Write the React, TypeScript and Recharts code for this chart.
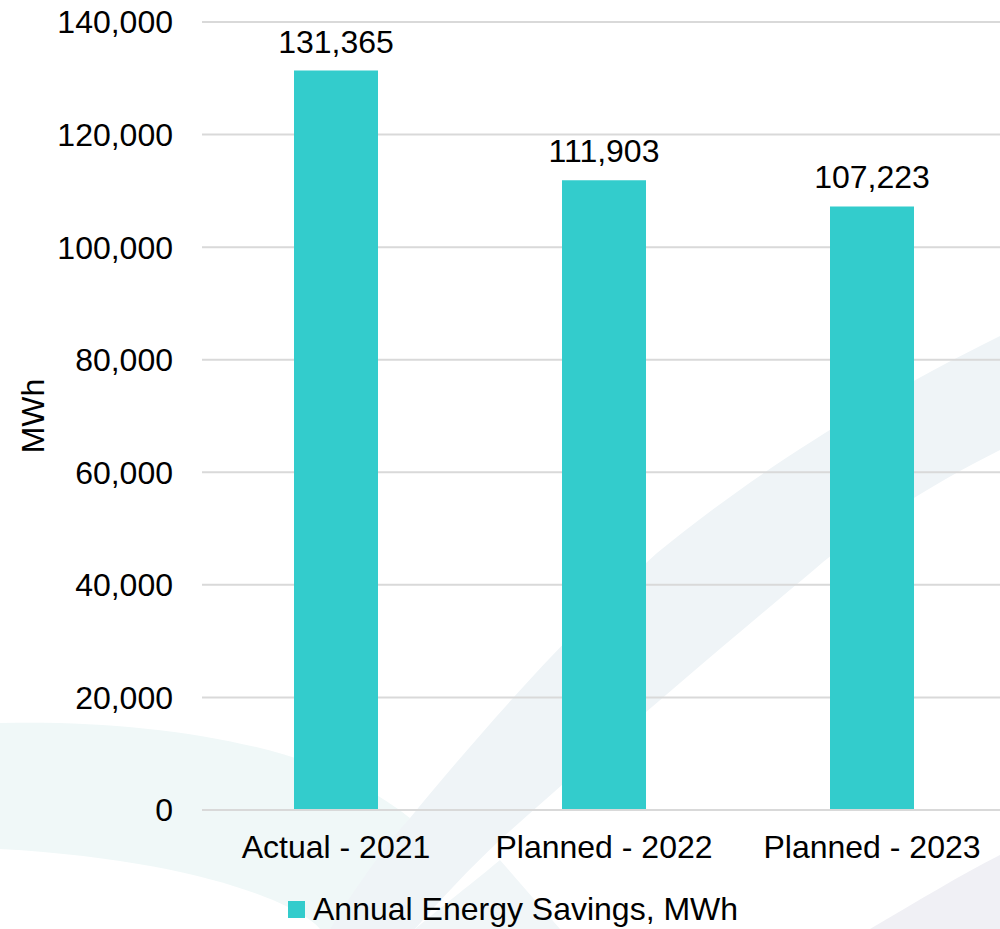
import React from "react";
import { BarChart, Bar, XAxis, YAxis, CartesianGrid, Legend, LabelList } from "recharts";

const categories = ["Actual - 2021", "Planned - 2022", "Planned - 2023"];
const savings = [131365, 111903, 107223];
const yTicks = [0, 20000, 40000, 60000, 80000, 100000, 120000, 140000];
const seriesName = "Annual Energy Savings, MWh";

const data = categories.map((name, i) => ({ name, savings: savings[i] }));

const FONT = "'Liberation Sans', Arial, sans-serif";
const FS = 32;
const BAR = "#33cccc";
const fmt = (v: number) => v.toLocaleString("en-US");

// soft decorative swooshes behind the plot
function Backdrop() {
  return (
    <svg width={1000} height={929} style={{ position: "absolute", left: 0, top: 0 }}>
      <path
        d="M0,723 C120,720 250,735 340,775 C380,795 400,810 410,818 L330,929 L320,929 C300,905 200,860 0,849 Z"
        fill="#f0f8f8"
      />
      <path
        d="M330,929 C360,880 390,840 410,818 C470,745 560,640 657,553 C740,485 850,410 1000,336 L1000,450 C930,485 860,530 815,569 C730,640 600,750 500,840 C470,868 440,900 415,929 Z"
        fill="#eff4f7"
      />
      <path d="M415,929 C450,900 470,885 500,860 L560,929 Z" fill="#f1f6f8" />
      <path d="M870,929 C920,900 960,875 1000,855 L1000,929 Z" fill="#f0f0f5" />
    </svg>
  );
}

function YLabel(props: any) {
  const vb = props.viewBox || {};
  const cy = vb.y + vb.height / 2;
  return (
    <text
      x={33}
      y={cy}
      transform={`rotate(-90, 33, ${cy})`}
      textAnchor="middle"
      dominantBaseline="central"
      fontSize={FS}
      fontFamily={FONT}
      fill="#000"
    >
      MWh
    </text>
  );
}

function LegendBox() {
  return (
    <div
      style={{
        display: "flex",
        alignItems: "center",
        height: 40,
        paddingLeft: 288,
        fontFamily: FONT,
        fontSize: FS,
        color: "#000",
      }}
    >
      <span style={{ width: 17, height: 17, background: BAR, display: "inline-block", marginRight: 8 }} />
      {seriesName}
    </div>
  );
}

export default function App() {
  return (
    <div
      style={{
        position: "absolute",
        left: 0,
        top: 0,
        width: 1000,
        height: 929,
        overflow: "hidden",
        background: "#fff",
      }}
    >
      <Backdrop />
      <div style={{ position: "absolute", left: 0, top: 0 }}>
        <BarChart width={1006} height={929} data={data} margin={{ top: 22, right: 0, left: 0, bottom: 0 }}>
          <CartesianGrid vertical={false} stroke="#d9d9d9" strokeWidth={2} />
          <XAxis
            dataKey="name"
            height={79}
            tickLine={false}
            axisLine={{ stroke: "#d9d9d9", strokeWidth: 2 }}
            tickSize={0}
            tickMargin={25}
            tick={{ fontSize: FS, fill: "#000", fontFamily: FONT }}
            interval={0}
          />
          <YAxis
            width={202}
            domain={[0, 140000]}
            ticks={yTicks}
            tickFormatter={fmt}
            tickLine={false}
            axisLine={false}
            tickSize={0}
            tickMargin={29}
            tick={{ fontSize: FS, fill: "#000", fontFamily: FONT }}
            label={<YLabel />}
          />
          <Legend verticalAlign="bottom" content={<LegendBox />} />
          <Bar dataKey="savings" name={seriesName} fill={BAR} barSize={84} isAnimationActive={false}>
            <LabelList
              dataKey="savings"
              position="top"
              offset={18}
              formatter={(v: any) => fmt(Number(v))}
              style={{ fontSize: FS, fill: "#000", fontFamily: FONT }}
            />
          </Bar>
        </BarChart>
      </div>
    </div>
  );
}
